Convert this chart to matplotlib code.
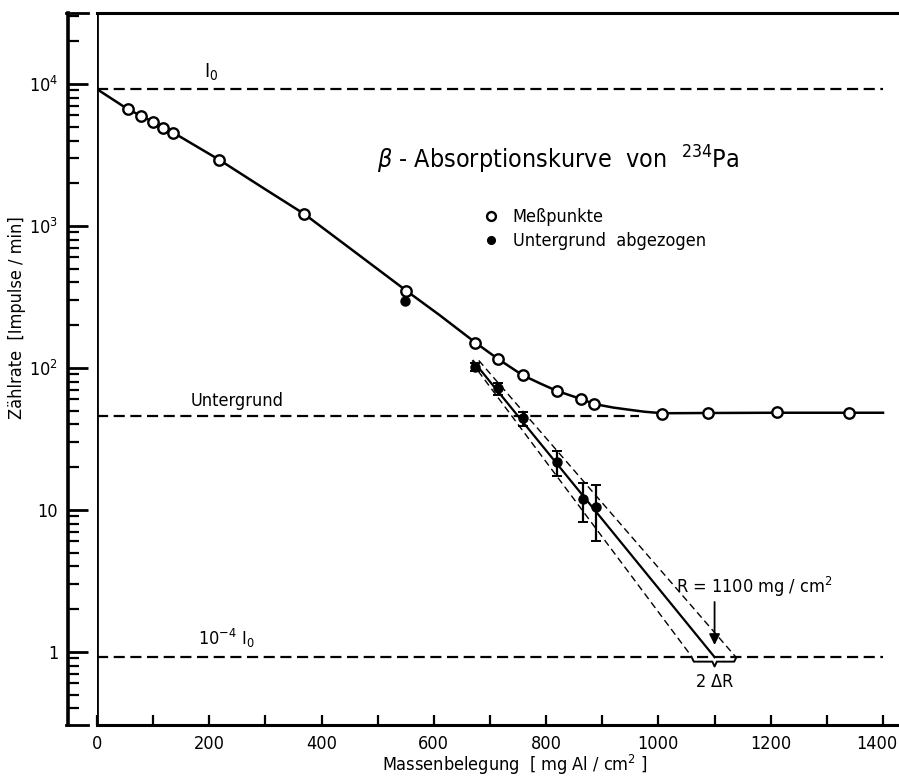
import matplotlib
matplotlib.use('Agg')
import matplotlib.pyplot as plt
from matplotlib.ticker import FixedLocator, FuncFormatter, LogLocator, NullFormatter
from matplotlib.lines import Line2D

plt.rcParams['font.family'] = ['DejaVu Sans']
plt.rcParams['font.stretch'] = 'condensed'
plt.rcParams['mathtext.fontset'] = 'custom'
plt.rcParams['mathtext.rm'] = 'DejaVu Sans:stretch=condensed'
plt.rcParams['mathtext.it'] = 'DejaVu Sans:italic:stretch=condensed'
plt.rcParams['mathtext.default'] = 'rm'

# ---------------- data ----------------
meas_x = [55, 79, 99, 118, 136, 218, 369, 551, 674, 714, 758, 819, 862, 886, 1007, 1088, 1211, 1340]
meas_y = [6640, 5950, 5430, 4920, 4540, 2920, 1216, 350, 151, 116, 89, 69, 60.5, 55.7, 47.4, 48.4, 49.2, 48.4]

net_x = [548, 674, 715, 759, 819, 865, 888]
net_y = [296, 102, 72, 44.2, 21.7, 11.9, 10.5]
err_x = [674, 715, 759, 819, 865, 888]
err_y = [102, 72, 44.2, 21.7, 11.9, 10.5]
err_v = [7, 7, 5, 4.3, 3.7, 4.5]

curve_x = [0, 55, 79, 99, 118, 136, 218, 300, 369, 460, 551, 610, 674, 714, 758, 790, 819, 862, 886, 920, 945, 975, 1007, 1088, 1211, 1340, 1400]
curve_y = [9200, 6640, 5950, 5430, 4920, 4540, 2920, 1810, 1216, 653, 350, 236, 151, 116, 89, 77.6, 69, 60.5, 55.7, 52.6, 51.0, 49.2, 48.0, 48.2, 48.4, 48.4, 48.4]

fit_x = [670, 1100]
fit_y = [112, 0.92]
fit_lo_x = [667, 1060]
fit_lo_y = [110, 0.92]
fit_hi_x = [680, 1138]
fit_hi_y = [113, 0.92]

I0 = 9200
background = 46.1
I0_low = 0.92
bg_end = 965
R_value = 1100

y_major = [1, 10, 100, 1000, 10000]
y_labels = ['1', '10', r'10$^2$', r'10$^3$', r'10$^4$']
x_major = list(range(0, 1401, 100))
x_last_label = '1400'

# ---------------- figure ----------------
fig = plt.figure(figsize=(8.99, 7.78), dpi=100)
W, H = 899, 778
ax = fig.add_axes([97 / W, 53 / H, 802 / W, 712 / H])
ax.set_yscale('log')
ax.set_xlim(0, 1428.5)
ax.set_ylim(0.306, 31623)

for s in ['top', 'bottom', 'left']:
    ax.spines[s].set_linewidth(2.2)
ax.spines['right'].set_visible(False)
ax.spines['left'].set_position(('outward', 20.9))
ax.spines['left'].set_linewidth(2.6)

ax.yaxis.set_major_locator(FixedLocator(y_major))
ax.yaxis.set_major_formatter(FuncFormatter(lambda v, p: dict(zip(y_major, y_labels)).get(round(v), '')))
ax.yaxis.set_minor_locator(LogLocator(base=10, subs=range(2, 10), numticks=20))
ax.yaxis.set_minor_formatter(NullFormatter())
ax.tick_params(axis='y', which='major', direction='in', length=14.5, width=2, pad=7, labelsize=13)
ax.tick_params(axis='y', which='minor', direction='in', length=8, width=1.6)

ax.xaxis.set_major_locator(FixedLocator(x_major))
ax.xaxis.set_major_formatter(FuncFormatter(
    lambda v, p: f'{int(v)}' if (int(round(v)) % 200 == 0 and int(round(v)) < 1400) else ''))
ax.tick_params(axis='x', which='major', direction='in', length=7, width=1.6, pad=7, labelsize=13)
ax.tick_params(axis='x', which='minor', bottom=False)
# last tick label, kept inside the canvas edge
ax.annotate(x_last_label, xy=(1, 0), xycoords='axes fraction', xytext=(-1, -7), textcoords='offset points',
            ha='right', va='top', fontsize=13)

# frame pieces on the detached y axis
fig.add_artist(Line2D([66 / W, 88 / W], [1 - 13 / H, 1 - 13 / H], color='k', lw=2))
fig.add_artist(Line2D([66 / W, 88 / W], [1 - 725 / H, 1 - 725 / H], color='k', lw=2))
ax.axvline(0, color='k', lw=2, zorder=3)

# reference lines
dash = dict(color='k', lw=1.6, dashes=(5, 2.5))
ax.plot([0, 1400], [I0, I0], **dash)
ax.plot([0, bg_end], [background, background], **dash)
ax.plot([0, 1400], [I0_low, I0_low], **dash)

# main curve
ax.plot(curve_x, curve_y, color='k', lw=1.8, zorder=4)

# fits
ax.plot(fit_x, fit_y, color='k', lw=1.6, zorder=4)
ax.plot(fit_lo_x, fit_lo_y, color='k', lw=1.0, dashes=(5, 3), zorder=4)
ax.plot(fit_hi_x, fit_hi_y, color='k', lw=1.0, dashes=(5, 3), zorder=4)

# points
ax.errorbar(err_x, err_y, yerr=err_v, fmt='none', ecolor='k', elinewidth=1.6, capsize=3.5, capthick=1.4, zorder=5)
ax.plot(meas_x, meas_y, 'o', ms=7.5, mfc='white', mec='k', mew=1.7, zorder=6, label='Meßpunkte')
ax.plot(net_x, net_y, 'o', ms=6.5, mfc='k', mec='k', zorder=6, label='Untergrund  abgezogen')

leg = ax.legend(loc='upper left', bbox_to_anchor=(482 / W, 1 - 208 / H), bbox_transform=fig.transFigure,
                frameon=False, handlelength=1.0, handletextpad=0.7, labelspacing=0.35,
                borderpad=0, borderaxespad=0, fontsize=13, markerscale=0.85)

# labels on lines
ax.text(203, I0 * 1.1, r'I$_0$', ha='center', va='bottom', fontsize=14)
ax.text(250, background * 1.1, 'Untergrund', ha='center', va='bottom', fontsize=13)
ax.text(230, I0_low * 1.12, r'10$^{-4}$ I$_0$', ha='center', va='bottom', fontsize=13)

# range annotation
ax.text(1170, 2.87, r'R = 1100 mg / cm$^2$', ha='center', va='center', fontsize=13)
ax.annotate('', xy=(R_value, 1.12), xytext=(R_value, 2.25),
            arrowprops=dict(arrowstyle='-|>', color='k', lw=1.3, mutation_scale=16, shrinkA=0, shrinkB=0))
bx = [1060, 1063, 1096, 1100, 1104, 1135, 1138]
by = [0.905, 0.855, 0.855, 0.79, 0.855, 0.855, 0.905]
ax.plot(bx, by, color='k', lw=1.4)
ax.text(R_value, 0.615, r'2 $\Delta$R', ha='center', va='center', fontsize=13)

# titles
fig.text(558 / W, 1 - 160 / H, r'$\mathit{\beta}$ - Absorptionskurve  von  $^{234}$Pa', ha='center', va='center', fontsize=18)
fig.text(515 / W, 1 - 765 / H, r'Massenbelegung  [ mg Al / cm$^2$ ]', ha='center', va='center', fontsize=13)
fig.text(17 / W, 1 - 318 / H, 'Zählrate  [Impulse / min]', ha='center', va='center', rotation=90, fontsize=13)

fig.savefig('out.png', dpi=100)
